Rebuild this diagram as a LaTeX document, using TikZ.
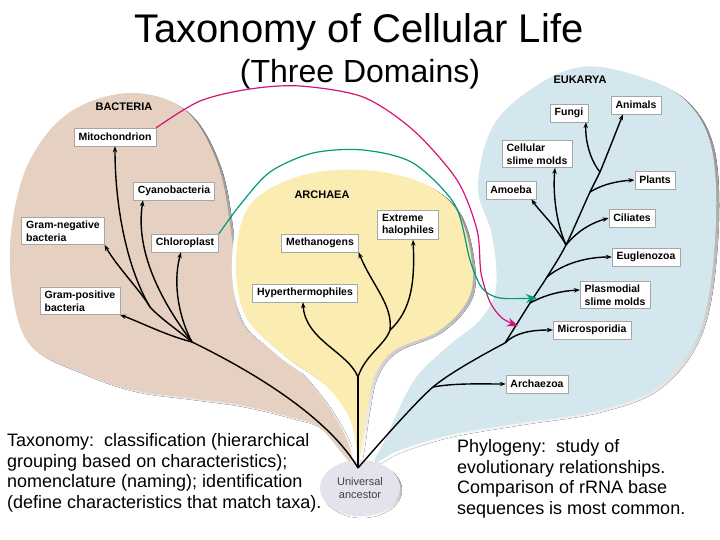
\documentclass[tikz,border=0pt]{standalone}
\usepackage{fontspec}
\setmainfont{Liberation Sans}
\usetikzlibrary{arrows.meta,positioning,shapes.geometric}

\definecolor{bactfill}{RGB}{229,208,193}
\definecolor{archfill}{RGB}{251,236,178}
\definecolor{eukfill}{RGB}{212,230,238}
\definecolor{ancfill}{RGB}{229,225,237}
\definecolor{shade}{RGB}{160,160,160}
\definecolor{mitolink}{RGB}{210,20,120}
\definecolor{chlorolink}{RGB}{0,155,125}

\tikzset{
  taxon/.style={draw=gray!70, fill=white, line width=0.5pt, align=left,
    font=\bfseries\fontsize{10.5}{12.5}\selectfont,
    inner xsep=4.5pt, inner ysep=3.5pt, minimum height=18pt},
  domainname/.style={font=\bfseries\fontsize{11}{12}\selectfont},
  trunk/.style={line width=1.4pt},
  branch/.style={line width=1.4pt, -{Stealth[length=6pt,width=4.5pt]}},
  link/.style={line width=1.2pt, -{Stealth[length=11pt,width=9pt]}},
  note/.style={align=left, inner sep=0pt, anchor=north west,
    font=\fontsize{18}{20.8}\selectfont},
}

\begin{document}
\begin{tikzpicture}[x=1pt,y=-1pt]
  \useasboundingbox (0,0) rectangle (720,540);

  % Title
  \node[anchor=base, font=\fontsize{40}{44}\selectfont] (title) at (359,43) {Taxonomy of Cellular Life};
  \node[anchor=base, font=\fontsize{32}{36}\selectfont] (subtitle) at (360,83) {(Three Domains)};

  % Domain shapes
  \def\bactshape{plot[smooth cycle, tension=0.6] coordinates {(350,462) (320,428) (290,417) (240,405) (190,398) (133,390) (80,372) (30,345) (12,290) (12,225) (30,160) (70,112) (130,93) (185,110) (218,165) (232,240) (240,320) (290,362) (325,402) (347,440)}}
  \def\eukshape{plot[smooth cycle, tension=0.6] coordinates {(375,462) (385,440) (413,382) (447,347) (480,320) (496,288) (492,235) (478,188) (492,128) (530,90) (580,67) (635,75) (685,100) (712,150) (715,240) (700,330) (660,385) (600,410) (520,423) (450,435) (400,450)}}
  \def\archshape{plot[smooth cycle, tension=0.6] coordinates {(358,462) (355,440) (348,415) (325,385) (280,352) (245,315) (236,260) (250,205) (300,176) (363,170) (420,182) (455,208) (470,250) (470,295) (440,330) (395,350) (375,375) (367,410) (362,445)}}

  \fill[shade, shift={(3,2)}] \bactshape;
  \fill[bactfill] \bactshape;
  \fill[shade, shift={(3,2)}] \eukshape;
  \fill[eukfill] \eukshape;
  \draw[white, fill=white, line width=8pt] \archshape;
  \fill[shade, shift={(3,2)}] \archshape;
  \fill[archfill] \archshape;

  % Root of the tree
  \fill[shade] (362,490) ellipse [x radius=40, y radius=28];
  \node[ellipse, fill=ancfill, minimum width=80pt, minimum height=56pt, inner sep=0pt, align=center,
    text=black!75, font=\fontsize{11}{13}\selectfont] (ancestor) at (360,488) {Universal\\ancestor};
  \coordinate (root) at (358,468);

  % Bacteria
  \node[domainname] (bacteria) at (124,107) {BACTERIA};
  \node[taxon] (mito) at (115,137) {Mitochondrion};
  \node[taxon] (cyano) at (174,191) {Cyanobacteria};
  \node[taxon] (gramneg) at (63,231) {Gram-negative\\bacteria};
  \node[taxon] (chloro) at (185,243) {Chloroplast};
  \node[taxon] (grampos) at (80,301) {Gram-positive\\bacteria};

  % Archaea
  \node[domainname] (archaea) at (322,195) {ARCHAEA};
  \node[taxon] (methano) at (320,243) {Methanogens};
  \node[taxon] (halo) at (408,225) {Extreme\\halophiles};
  \node[taxon] (hyper) at (305,293) {Hyperthermophiles};

  % Eukarya
  \node[domainname] (eukarya) at (580,80) {EUKARYA};
  \node[taxon] (fungi) at (569,113) {Fungi};
  \node[taxon] (animals) at (636,105) {Animals};
  \node[taxon] (slime) at (537,154) {Cellular\\slime molds};
  \node[taxon] (amoeba) at (511,190) {Amoeba};
  \node[taxon] (plants) at (655,180) {Plants};
  \node[taxon] (ciliates) at (632,218) {Ciliates};
  \node[taxon] (eugleno) at (646,257) {Euglenozoa};
  \node[taxon] (plasmo) at (615,295) {Plasmodial\\slime molds};
  \node[taxon] (micro) at (592,330) {Microsporidia};
  \node[taxon] (archaezoa) at (537,384) {Archaezoa};

  % Bacterial branches
  \coordinate (b1) at (192,342);
  \coordinate (b2) at (150,307);
  \draw[trunk] (root) .. controls (330,420) and (260,375) .. (b1);
  \draw[branch] (b1) .. controls (165,335) and (140,322) .. (grampos.south east);
  \draw[trunk] (b1) .. controls (175,328) and (160,318) .. (b2);
  \draw[branch] (b2) .. controls (140,290) and (118,268) .. (gramneg.south east);
  \draw[branch] (b2) .. controls (128,270) and (115,210) .. (mito.south);
  \draw[branch] (b1) .. controls (160,300) and (135,250) .. ([xshift=-31pt]cyano.south);
  \draw[branch] (b1) .. controls (180,320) and (172,285) .. ([xshift=-4pt]chloro.south);

  % Archaeal branches
  \coordinate (a1) at (358,377);
  \coordinate (a2) at (390,330);
  \draw[trunk] (root) -- (a1);
  \draw[branch] (a1) .. controls (348,352) and (305,340) .. ([xshift=-2pt]hyper.south);
  \draw[trunk] (a1) .. controls (365,355) and (385,345) .. (a2);
  \draw[branch] (a2) .. controls (393,305) and (372,285) .. (methano.south east);
  \draw[branch] (a2) .. controls (412,310) and (415,280) .. ([xshift=5pt]halo.south);

  % Eukaryal branches
  \coordinate (e1) at (433,387);
  \coordinate (e2) at (505,343);
  \coordinate (e3) at (530,303);
  \coordinate (e4) at (547,277);
  \coordinate (e5) at (566,245);
  \coordinate (e6) at (590,192);
  \coordinate (e7) at (600,172);
  \draw[trunk] plot[smooth] coordinates {(root) (e1) (e2)};
  \draw[branch] plot[smooth] coordinates {(e2) (e3) (e4) (e5) (e6) (e7) ([xshift=-13pt]animals.south)};
  \draw[branch] (e1) .. controls (455,383) and (480,384) .. (archaezoa.west);
  \draw[branch] (e2) .. controls (515,333) and (530,330) .. (micro.west);
  \draw[branch] (e3) .. controls (545,295) and (560,291) .. ([yshift=5pt]plasmo.west);
  \draw[branch] (e4) .. controls (565,262) and (590,257) .. (eugleno.west);
  \draw[branch] (e5) .. controls (580,228) and (595,222) .. (ciliates.west);
  \draw[branch] (e5) .. controls (555,225) and (540,212) .. ([xshift=-5pt]amoeba.south east);
  \draw[branch] (e5) .. controls (555,220) and (553,190) .. ([xshift=18pt]slime.south);
  \draw[branch] (e6) .. controls (605,183) and (620,181) .. (plants.west);
  \draw[branch] (e7) .. controls (590,160) and (585,140) .. ([xshift=-2pt]fungi.south east);

  % Endosymbiosis links
  \coordinate (mitotip) at (518,326);
  \coordinate (chlorotip) at (537,298);
  \draw[link, mitolink] plot[smooth] coordinates {(mito.north east) (200,101) (250,89) (300,86) (363,97) (413,130) (457,180) (477,230) (481,273) (490,302) (502,318) (mitotip)};
  \draw[link, chlorolink] plot[smooth] coordinates {(chloro.north east) (240,205) (270,172) (313,153) (363,150) (413,163) (455,205) (470,260) (482,288) (500,298) (chlorotip)};

  % Notes
  \node[note] (taxnote) at (7,433) {Taxonomy:\ \ classification (hierarchical\\grouping based on characteristics);\\nomenclature (naming); identification\\(define characteristics that match taxa).};
  \node[note] (phylnote) at (457,439) {Phylogeny:\ \ study of\\evolutionary relationships.\\Comparison of rRNA base\\sequences is most common.};
\end{tikzpicture}
\end{document}
